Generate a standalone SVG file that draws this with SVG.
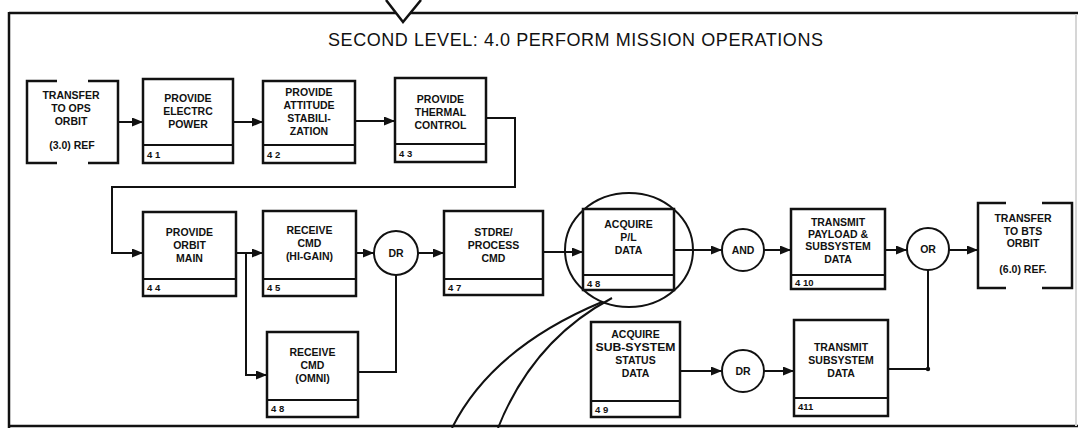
<svg xmlns="http://www.w3.org/2000/svg" width="1081" height="428" viewBox="0 0 1081 428">
<style>
.frame{fill:none;stroke:#111;stroke-width:2.5}
.box{fill:#fff;stroke:#111;stroke-width:2.5}
.br{fill:none;stroke:#111;stroke-width:2.5}
.strip{stroke:#111;stroke-width:2}
.c{fill:none;stroke:#111;stroke-width:2}
.gate{fill:#fff;stroke:#111;stroke-width:2}
.mag{fill:none;stroke:#111;stroke-width:2}
.t{font-family:"Liberation Sans",Arial,Helvetica,sans-serif;font-weight:bold;font-size:10.5px;fill:#111;text-anchor:middle}
.n{font-family:"Liberation Sans",Arial,Helvetica,sans-serif;font-weight:bold;font-size:9.5px;fill:#111;text-anchor:start}
.title{font-family:"Liberation Sans",Arial,Helvetica,sans-serif;font-size:18px;fill:#111;text-anchor:start}
</style>
<defs>
<marker id="ah" markerUnits="userSpaceOnUse" markerWidth="11" markerHeight="9" refX="11" refY="4.5" orient="auto">
<path d="M0,0 L11,4.5 L0,9 z" fill="#111"/>
</marker>
</defs>
<rect width="1081" height="428" fill="#fff"/>

<g id="frame">
<path class="frame" d="M9,13 H396 M410,13 H1078"/>
<path class="frame" d="M386,0 L403,22 L421,0"/>
<path class="frame" d="M9,12 V428"/>
<path class="frame" d="M9,426 H1078"/>
<path d="M1076,14 V426" fill="none" stroke="#d6d6d6" stroke-width="2"/>
<text class="title" x="328" y="46" textLength="495" lengthAdjust="spacing">SECOND LEVEL: 4.0 PERFORM MISSION OPERATIONS</text>
</g>

<g id="connectors">
<path class="c" d="M118,122 H143" marker-end="url(#ah)"/>
<path class="c" d="M233,122 H263" marker-end="url(#ah)"/>
<path class="c" d="M355,121 H395" marker-end="url(#ah)"/>
<path class="c" d="M486,118 H515 V187 H112 V253 H143" marker-end="url(#ah)"/>
<path class="c" d="M236,253 H263" marker-end="url(#ah)"/>
<path class="c" d="M246,253 V375 H267" marker-end="url(#ah)"/>
<path class="c" d="M356,253 H374" marker-end="url(#ah)"/>
<path class="c" d="M358,372 H396 V275"/>
<path class="c" d="M418,253 H444" marker-end="url(#ah)"/>
<path class="c" d="M543,252 H583" marker-end="url(#ah)"/>
<path class="c" d="M674,250 H722" marker-end="url(#ah)"/>
<path class="c" d="M764,250 H791" marker-end="url(#ah)"/>
<path class="c" d="M885,250 H907" marker-end="url(#ah)"/>
<path class="c" d="M949,250 H978" marker-end="url(#ah)"/>
<path class="c" d="M680,371 H722" marker-end="url(#ah)"/>
<path class="c" d="M764,371 H794" marker-end="url(#ah)"/>
<path class="c" d="M888,369 H928 V270"/>
<circle cx="928" cy="369" r="2.2" fill="#111"/>
</g>

<g id="magnifier">
<ellipse class="mag" cx="629" cy="250" rx="64" ry="57"/>
<path class="mag" d="M452,428 Q492,348 602,302"/>
<path class="mag" d="M498,428 Q533,340 612,298"/>
</g>

<g id="n30">
<path class="br" d="M57,81 H27 V163 H57 M88,81 H118 V163 H88"/>
<text class="t" x="71" y="99">TRANSFER</text>
<text class="t" x="71" y="112">TO OPS</text>
<text class="t" x="71" y="125">ORBIT</text>
<text class="t" x="72" y="149">(3.0) REF</text>
</g>

<g id="n41">
<rect class="box" x="143" y="79" width="90" height="84"/>
<line class="strip" x1="143" y1="145" x2="233" y2="145"/>
<text class="t" x="188" y="102">PROVIDE</text>
<text class="t" x="188" y="115">ELECTRC</text>
<text class="t" x="188" y="128">POWER</text>
<text class="n" x="147" y="158">4 1</text>
</g>

<g id="n42">
<rect class="box" x="263" y="81" width="92" height="82"/>
<line class="strip" x1="263" y1="145" x2="355" y2="145"/>
<text class="t" x="309" y="96">PROVIDE</text>
<text class="t" x="309" y="109">ATTITUDE</text>
<text class="t" x="309" y="122">STABILI-</text>
<text class="t" x="309" y="135">ZATION</text>
<text class="n" x="267" y="158">4 2</text>
</g>

<g id="n43">
<rect class="box" x="395" y="78" width="91" height="84"/>
<line class="strip" x1="395" y1="144" x2="486" y2="144"/>
<text class="t" x="440.5" y="103">PROVIDE</text>
<text class="t" x="440.5" y="116">THERMAL</text>
<text class="t" x="440.5" y="129">CONTROL</text>
<text class="n" x="399" y="157">4 3</text>
</g>

<g id="n44">
<rect class="box" x="143" y="212" width="93" height="84"/>
<line class="strip" x1="143" y1="279" x2="236" y2="279"/>
<text class="t" x="189.5" y="236">PROVIDE</text>
<text class="t" x="189.5" y="249">ORBIT</text>
<text class="t" x="189.5" y="262">MAIN</text>
<text class="n" x="147" y="291">4 4</text>
</g>

<g id="n45">
<rect class="box" x="263" y="211" width="93" height="85"/>
<line class="strip" x1="263" y1="279" x2="356" y2="279"/>
<text class="t" x="309.5" y="234">RECEIVE</text>
<text class="t" x="309.5" y="247">CMD</text>
<text class="t" x="309.5" y="260">(HI-GAIN)</text>
<text class="n" x="267" y="291">4 5</text>
</g>

<g id="g1">
<circle class="gate" cx="396" cy="253" r="22"/>
<text class="t" x="396" y="257">DR</text>
</g>

<g id="n46">
<rect class="box" x="267" y="332" width="91" height="85"/>
<line class="strip" x1="267" y1="400" x2="358" y2="400"/>
<text class="t" x="312.5" y="356">RECEIVE</text>
<text class="t" x="312.5" y="369">CMD</text>
<text class="t" x="312.5" y="382">(OMNI)</text>
<text class="n" x="271" y="412">4 8</text>
</g>

<g id="n47">
<rect class="box" x="444" y="211" width="99" height="84"/>
<line class="strip" x1="444" y1="279" x2="543" y2="279"/>
<text class="t" x="493.5" y="236">STDRE/</text>
<text class="t" x="493.5" y="249">PROCESS</text>
<text class="t" x="493.5" y="262">CMD</text>
<text class="n" x="448" y="291">4 7</text>
</g>

<g id="n48">
<rect class="box" x="583" y="209" width="91" height="81"/>
<line class="strip" x1="583" y1="275" x2="674" y2="275"/>
<text class="t" x="628.5" y="228">ACQUIRE</text>
<text class="t" x="628.5" y="241">P/L</text>
<text class="t" x="628.5" y="254">DATA</text>
<text class="n" x="587" y="287">4 8</text>
</g>

<g id="g2">
<circle class="gate" cx="743" cy="250" r="21"/>
<text class="t" x="743" y="254">AND</text>
</g>

<g id="n410">
<rect class="box" x="791" y="209" width="94" height="80"/>
<line class="strip" x1="791" y1="275" x2="885" y2="275"/>
<text class="t" x="838" y="226">TRANSMIT</text>
<text class="t" x="838" y="238">PAYLOAD &amp;</text>
<text class="t" x="838" y="250">SUBSYSTEM</text>
<text class="t" x="838" y="263">DATA</text>
<text class="n" x="795" y="286">4 10</text>
</g>

<g id="g3">
<circle class="gate" cx="928" cy="249" r="21"/>
<text class="t" x="928" y="253">OR</text>
</g>

<g id="n60">
<path class="br" d="M1006,203 H978 V288 H1006 M1042,203 H1072 V288 H1042"/>
<text class="t" x="1023" y="222">TRANSFER</text>
<text class="t" x="1023" y="235">TO BTS</text>
<text class="t" x="1023" y="247">ORBIT</text>
<text class="t" x="1023" y="273">(6.0) REF.</text>
</g>

<g id="n49">
<rect class="box" x="591" y="322" width="89" height="95"/>
<line class="strip" x1="591" y1="401" x2="680" y2="401"/>
<text class="t" x="635.5" y="338">ACQUIRE</text>
<text class="t" x="635.5" y="351" textLength="80" lengthAdjust="spacingAndGlyphs">SUB-SYSTEM</text>
<text class="t" x="635.5" y="364">STATUS</text>
<text class="t" x="635.5" y="377">DATA</text>
<text class="n" x="595" y="413">4 9</text>
</g>

<g id="g4">
<circle class="gate" cx="743" cy="371" r="21"/>
<text class="t" x="743" y="375">DR</text>
</g>

<g id="n411">
<rect class="box" x="794" y="320" width="94" height="96"/>
<line class="strip" x1="794" y1="398" x2="888" y2="398"/>
<text class="t" x="841" y="351">TRANSMIT</text>
<text class="t" x="841" y="364">SUBSYSTEM</text>
<text class="t" x="841" y="377">DATA</text>
<text class="n" x="798" y="410">411</text>
</g>
</svg>
